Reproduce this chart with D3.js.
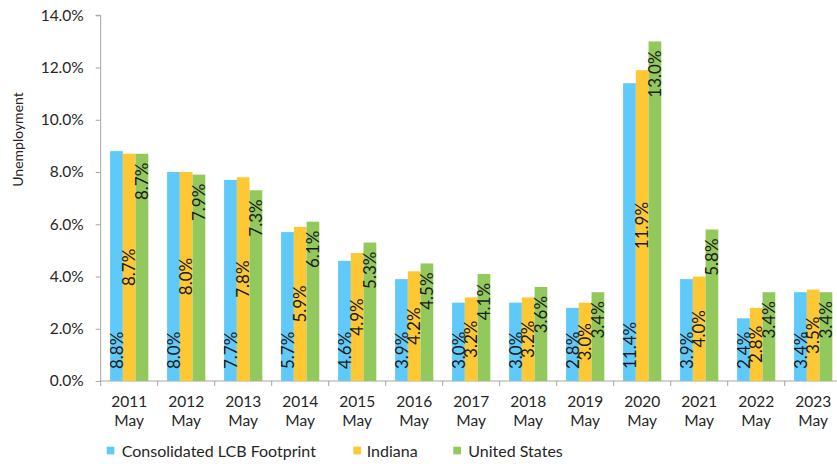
<!DOCTYPE html>
<html>
<head>
<meta charset="utf-8">
<script src="https://cdn.jsdelivr.net/npm/d3@7"></script>
<style>
  html, body { margin: 0; padding: 0; background: #ffffff; }
  svg { display: block; font-family: Lato, "Open Sans", sans-serif; }
</style>
</head>
<body>
<div id="chart"></div>
<script>
// Unemployment rate in May of each year, in percent
const years = ["2011", "2012", "2013", "2014", "2015", "2016", "2017", "2018", "2019", "2020", "2021", "2022", "2023"];
const seriesNames = ["Consolidated LCB Footprint", "Indiana", "United States"];
const footprint = [8.8, 8.0, 7.7, 5.7, 4.6, 3.9, 3.0, 3.0, 2.8, 11.4, 3.9, 2.4, 3.4];
const indiana   = [8.7, 8.0, 7.8, 5.9, 4.9, 4.2, 3.2, 3.2, 3.0, 11.9, 4.0, 2.8, 3.5];
const usa       = [8.7, 7.9, 7.3, 6.1, 5.3, 4.5, 4.1, 3.6, 3.4, 13.0, 5.8, 3.4, 3.4];
const yTicks = [0, 2, 4, 6, 8, 10, 12, 14];
const colors = ["#5FC9FA", "#FEC834", "#93C85C"];

const W = 837, H = 464;
const svg = d3.select("#chart").append("svg").attr("width", W).attr("height", H);

const plotLeft = 100.7, plotBottom = 381, plotTop = 15.3;
const step = 57;

const x0 = d3.scaleBand().domain(years).range([plotLeft, plotLeft + step * years.length]).padding(0);
const x1 = d3.scaleBand().domain(seriesNames).range([x0.bandwidth() * 0.165, x0.bandwidth() * 0.835]).padding(0);
const y = d3.scaleLinear().domain([0, 14]).range([plotBottom, plotTop]);

const axisColor = "#A6A6A6";
const textColor = "#262626";

// y axis
const yAxis = d3.axisLeft(y).tickValues(yTicks).tickSize(5).tickPadding(12)
  .tickFormat(d => d3.format(".1f")(d) + "%");
const gy = svg.append("g").attr("transform", `translate(${plotLeft},0)`).call(yAxis);
gy.select(".domain").attr("stroke", axisColor).attr("d", `M-5,${plotTop}H0V${plotBottom}`);
gy.selectAll(".tick line").attr("stroke", axisColor);
gy.selectAll(".tick text").attr("fill", textColor).style("font-size", "15.5px").style("font-family", "Lato, sans-serif");

// y axis title
svg.append("text")
  .attr("transform", `translate(23,${(89 + 190) / 2}) rotate(-90)`)
  .attr("text-anchor", "middle")
  .attr("fill", textColor)
  .style("font-size", "14px")
  .text("Unemployment");

// x axis line and category boundary ticks
const gx = svg.append("g");
gx.append("line").attr("x1", plotLeft).attr("x2", W).attr("y1", plotBottom).attr("y2", plotBottom).attr("stroke", axisColor);
const boundaries = years.map(d => x0(d)).concat([x0(years[years.length - 1]) + x0.bandwidth()]);
gx.selectAll("line.b").data(boundaries).join("line").attr("class", "b")
  .attr("x1", d => d).attr("x2", d => d).attr("y1", plotBottom).attr("y2", plotBottom + 5).attr("stroke", axisColor);

// category labels: year on first line, month below
const cat = gx.selectAll("text.cat").data(years).join("text").attr("class", "cat")
  .attr("x", d => x0(d) + x0.bandwidth() / 2)
  .attr("y", 406.5)
  .attr("text-anchor", "middle")
  .attr("fill", textColor)
  .style("font-size", "15.5px");
cat.append("tspan").attr("x", d => x0(d) + x0.bandwidth() / 2).text(d => d);
cat.append("tspan").attr("x", d => x0(d) + x0.bandwidth() / 2).attr("dy", 19).text("May");

// bars
const rows = years.map((yr, i) => ({ year: yr, vals: [footprint[i], indiana[i], usa[i]] }));
const groups = svg.append("g").selectAll("g").data(rows).join("g")
  .attr("transform", d => `translate(${x0(d.year)},0)`);

groups.selectAll("rect").data(d => d.vals.map((v, k) => ({ v, k }))).join("rect")
  .attr("x", d => x1(seriesNames[d.k]))
  .attr("width", x1.bandwidth())
  .attr("y", d => y(d.v))
  .attr("height", d => y(0) - y(d.v))
  .attr("fill", d => colors[d.k]);

// value labels: base for the footprint, centre for Indiana, end for the US
groups.selectAll("text").data(d => d.vals.map((v, k) => ({ v, k }))).join("text")
  .attr("transform", d => {
    const cx = x1(seriesNames[d.k]) + x1.bandwidth() / 2;
    let cy;
    if (d.k === 0) cy = y(0) - 12;
    else if (d.k === 1) cy = (y(0) + y(d.v)) / 2;
    else cy = y(d.v) + 9;
    return `translate(${cx},${cy}) rotate(-90)`;
  })
  .attr("dy", "0.36em")
  .attr("text-anchor", d => d.k === 0 ? "start" : d.k === 1 ? "middle" : "end")
  .attr("fill", "#1a1a1a")
  .style("font-size", "17px")
  .text(d => d3.format(".1f")(d.v) + "%");

// legend
const legendPos = [{ sx: 106.7, tx: 121.7 }, { sx: 353.3, tx: 366.7 }, { sx: 453.3, tx: 468.3 }];
const lg = svg.append("g").selectAll("g").data(seriesNames).join("g");
lg.append("rect")
  .attr("x", (d, i) => legendPos[i].sx).attr("y", 446.7)
  .attr("width", 7.7).attr("height", 7.7)
  .attr("fill", (d, i) => colors[i]);
lg.append("text")
  .attr("x", (d, i) => legendPos[i].tx).attr("y", 456.5)
  .attr("fill", textColor)
  .style("font-size", "16px")
  .text(d => d);
</script>
</body>
</html>
